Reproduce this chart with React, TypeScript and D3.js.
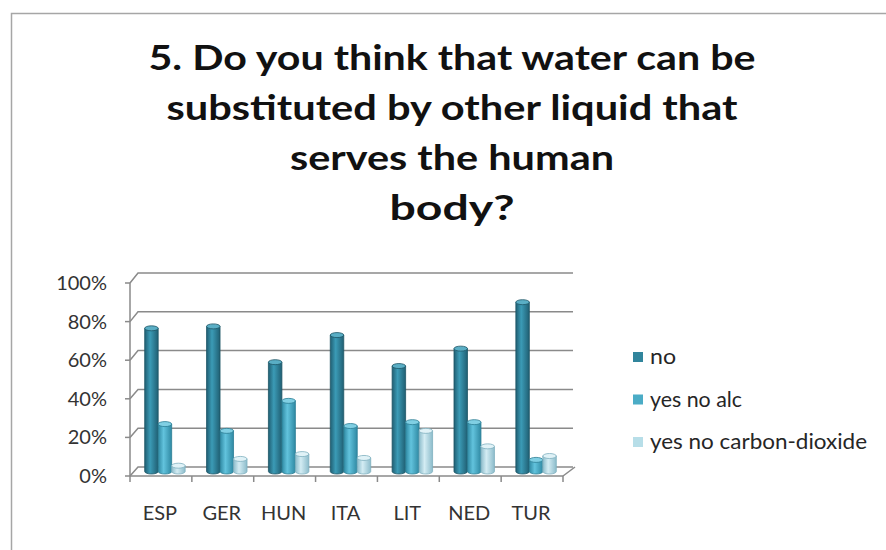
import * as React from 'react';
import * as d3 from 'd3';

// chart data
const categories = ['ESP', 'GER', 'HUN', 'ITA', 'LIT', 'NED', 'TUR'];
const seriesNames = ['no', 'yes no alc', 'yes no carbon-dioxide'];
const noValues = [74, 75, 56.5, 70.5, 54.5, 63.5, 87.5];
const alcValues = [24.5, 21, 36.5, 23.5, 25.5, 25.5, 6];
const co2Values = [3, 6.5, 9, 7, 21, 13, 8];
const yTicks = [0, 20, 40, 60, 80, 100];
const titleLines = [
  '5. Do you think that water can be',
  'substituted by other liquid that',
  'serves the human',
  'body?'
];

const seriesValues = [noValues, alcValues, co2Values];
const seriesColors = [
  {edge: '#205f73', mid: '#3b9bb6', base: '#31859c', top: '#5aaec5', stroke: '#1d5566'},
  {edge: '#2f89a3', mid: '#62c3dd', base: '#4bacc6', top: '#80cfe3', stroke: '#2b7d94'},
  {edge: '#8cbccb', mid: '#d3ecf3', base: '#b7dee8', top: '#e0f2f7', stroke: '#7fb0bf'}
];

const FONT = 'Lato, "Open Sans", sans-serif';

export default function App() {
  const width = 886;
  const height = 550;

  // front plane of the 3-D box and its back wall
  const frontLeft = 130;
  const frontRight = 563;
  const depthX = 8;
  const backRight = 573;

  const yFront = d3.scaleLinear().domain([0, 100]).range([476, 283]);
  const yBack = d3.scaleLinear().domain([0, 100]).range([467, 273]);
  const yMid = d3.scaleLinear().domain([0, 100]).range([471.5, 278]);

  const x = d3
    .scaleBand<string>()
    .domain(categories)
    .range([frontLeft, frontRight])
    .paddingInner(0.346)
    .paddingOuter(0.173);
  const xs = d3
    .scaleBand<string>()
    .domain(seriesNames)
    .range([0, x.bandwidth()]);
  const step = x.step();
  const titleWidths = [607, 571, 324, 125];
  const legendWidths = [26, 92, 217];

  return (
    <svg
      width={width}
      height={height}
      style={{position: 'absolute', left: 0, top: 0, background: '#fff'}}
    >
      <defs>
        {seriesColors.map((c, i) => (
          <linearGradient key={i} id={`cyl${i}`} x1='0' x2='1' y1='0' y2='0'>
            <stop offset='0%' stopColor={c.edge} />
            <stop offset='40%' stopColor={c.mid} />
            <stop offset='100%' stopColor={c.edge} />
          </linearGradient>
        ))}
      </defs>
      <rect x={11.5} y={13.5} width={900} height={600} fill='#fff' stroke='#a6a6a6' strokeWidth={1.5} />

      {titleLines.map((t, i) => (
        <text
          key={t}
          x={452}
          y={70 + i * 50}
          textAnchor='middle'
          fontFamily={FONT}
          fontWeight='bold'
          fontSize={35}
          fill='#111'
          textLength={titleWidths[i]}
          lengthAdjust='spacingAndGlyphs'
        >
          {t}
        </text>
      ))}

      {/* gridlines: left wall diagonal then along the back wall */}
      {yTicks.map(t => (
        <path
          key={t}
          d={`M${frontLeft},${yFront(t)}L${frontLeft + depthX},${yBack(t)}L${backRight},${yBack(t)}`}
          fill='none'
          stroke='#8a8a8a'
          strokeWidth={1.5}
        />
      ))}
      {/* floor right edge */}
      <path
        d={`M${frontRight},${yFront(0)}L${backRight + 2},${yBack(0)}`}
        stroke='#8a8a8a'
        strokeWidth={1.5}
        fill='none'
      />

      {/* value axis */}
      <line x1={frontLeft} x2={frontLeft} y1={yFront(0)} y2={yFront(100)} stroke='#8a8a8a' strokeWidth={1.5} />
      {yTicks.map(t => (
        <g key={t}>
          <line x1={frontLeft - 5} x2={frontLeft} y1={yFront(t)} y2={yFront(t)} stroke='#8a8a8a' strokeWidth={1.5} />
          <text
            x={107}
            y={yFront(t)}
            dy='0.35em'
            textAnchor='end'
            fontFamily={FONT}
            fontSize={20}
            fill='#333'
          >
            {t}%
          </text>
        </g>
      ))}

      {/* bars as cylinders */}
      {seriesNames.map((s, si) =>
        categories.map((c, ci) => {
          const v = seriesValues[si][ci];
          const bx = (x(c) as number) + (xs(s) as number) + depthX / 2;
          const bw = xs.bandwidth();
          const top = yMid(v);
          const base = yMid(0);
          const ry = 2.5;
          const col = seriesColors[si];
          return (
            <g key={`${s}-${c}`}>
              <path
                d={`M${bx},${top}L${bx},${base}A${bw / 2},${ry} 0 0 0 ${bx + bw},${base}L${bx + bw},${top}Z`}
                fill={`url(#cyl${si})`}
                stroke={col.stroke}
                strokeWidth={0.8}
              />
              <ellipse
                cx={bx + bw / 2}
                cy={top}
                rx={bw / 2}
                ry={ry}
                fill={col.top}
                stroke={col.stroke}
                strokeWidth={0.8}
              />
            </g>
          );
        })
      )}

      {/* category axis on the front floor edge */}
      <line x1={frontLeft} x2={frontRight} y1={yFront(0)} y2={yFront(0)} stroke='#8a8a8a' strokeWidth={1.5} />
      {d3.range(categories.length + 1).map(i => (
        <line
          key={i}
          x1={frontLeft + i * step}
          x2={frontLeft + i * step}
          y1={yFront(0)}
          y2={yFront(0) + 6}
          stroke='#8a8a8a'
          strokeWidth={1.5}
        />
      ))}
      {categories.map(c => (
        <text
          key={c}
          x={(x(c) as number) + x.bandwidth() / 2 - 1}
          y={520}
          textAnchor='middle'
          fontFamily={FONT}
          fontSize={20}
          fill='#333'
        >
          {c}
        </text>
      ))}

      {/* legend */}
      {seriesNames.map((s, i) => (
        <g key={s} transform={`translate(633, ${357 + i * 42.5})`}>
          <rect x={0} y={-5} width={10} height={10} fill={seriesColors[i].base} />
          <text
            x={17}
            y={0}
            dy='0.35em'
            fontFamily={FONT}
            fontSize={21}
            fill='#262626'
            textLength={legendWidths[i]}
            lengthAdjust='spacingAndGlyphs'
          >
            {s}
          </text>
        </g>
      ))}
    </svg>
  );
}
